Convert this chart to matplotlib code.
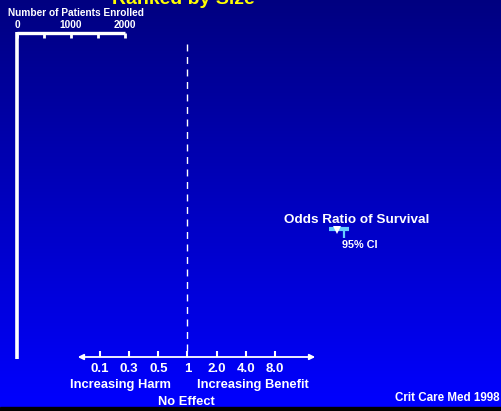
import numpy as np
import matplotlib
matplotlib.use("Agg")
import matplotlib.pyplot as plt

plt.rcParams['font.family'] = ['Liberation Sans', 'DejaVu Sans']

# Data
title = "Ranked by Size"
enrolled_ticks = [0, 500, 1000, 1500, 2000]
enrolled_labels = [0, 1000, 2000]
odds_labels = ["0.1", "0.3", "0.5", "1", "2.0", "4.0", "8.0"]
legend_title = "Odds Ratio of Survival"
ci_label = "95% CI"
source = "Crit Care Med 1998"

W, H = 502, 411
fig = plt.figure(figsize=(W / 100, H / 100), dpi=100)
ax = fig.add_axes([0, 0, 1, 1])
ax.set_xlim(0, W)
ax.set_ylim(H, 0)
ax.axis('off')

# background gradient
top = np.array([0, 0, 128]) / 255
bot = np.array([0, 0, 255]) / 255
t = np.linspace(0, 1, 256)[:, None]
grad = top * (1 - t) + bot * t
img = np.repeat(grad[:, None, :], 2, axis=1)
ax.imshow(img, extent=[0, W, 407, 0], aspect='auto', zorder=0)
ax.add_patch(plt.Rectangle((0, 407), W, 4, color='black', zorder=1))

white = 'white'
# enrollment scale (top)
def ex(v):
    return 17 + (125 - 17) * v / 2000.0

ax.plot([ex(0), ex(2000)], [33, 33], color=white, lw=2.4, solid_capstyle='butt', zorder=3)
for v in enrolled_ticks:
    ax.plot([ex(v), ex(v)], [33, 38.5], color=white, lw=2.0, solid_capstyle='butt', zorder=3)
for v in enrolled_labels:
    ax.text(ex(v), 28.5, str(v), color=white, fontsize=7.3, fontweight='bold', ha='center', va='baseline', zorder=4)
ax.text(8, 16.5, "Number of Patients Enrolled", color=white, fontsize=7.3, fontweight='bold', ha='left', va='baseline', zorder=4)
ax.plot([17, 17], [32, 359], color=white, lw=2.6, solid_capstyle='butt', zorder=3)

# title (cut off at top, as in the original)
ax.text(183, 4, title, color='#ffff00', fontsize=14, fontweight='bold', ha='center', va='baseline', zorder=4)

# odds ratio axis (bottom)
def ox(i):
    return 100 + i * (275 - 100) / 6.0

ax.annotate('', xy=(318, 357), xytext=(75, 357),
            arrowprops=dict(arrowstyle='<|-|>', color=white, lw=1.3, mutation_scale=8), zorder=3)
for i, lab in enumerate(odds_labels):
    x = ox(i)
    ax.plot([x, x], [351, 357], color=white, lw=1.5, solid_capstyle='butt', zorder=3)
    ax.text(x, 371.5, lab, color=white, fontsize=9.5, fontweight='bold', ha='center', va='baseline', zorder=4)

ax.plot([ox(3), ox(3)], [44, 357], color=white, lw=1.0, ls=(0, (5, 4)), zorder=2)

ax.text(120, 388, "Increasing Harm", color=white, fontsize=9.3, fontweight='bold', ha='center', va='baseline', zorder=4)
ax.text(253, 388, "Increasing Benefit", color=white, fontsize=9.3, fontweight='bold', ha='center', va='baseline', zorder=4)
ax.text(186, 405, "No Effect", color=white, fontsize=9.3, fontweight='bold', ha='center', va='baseline', zorder=4)
ax.text(500, 401, source, color=white, fontsize=8.4, fontweight='bold', ha='right', va='baseline', zorder=4)

# legend
ax.text(357, 223, legend_title, color=white, fontsize=9.7, fontweight='bold', ha='center', va='baseline', zorder=4)
cyan = '#66ccff'
ax.plot([329, 349], [229, 229], color=cyan, lw=3, solid_capstyle='butt', zorder=3)
ax.plot([344, 344], [229, 238], color=cyan, lw=1.6, solid_capstyle='butt', zorder=3)
ax.plot([337], [230], marker='v', color=white, markersize=6, zorder=4, markeredgewidth=0)
ax.text(342, 248, ci_label, color=white, fontsize=7.8, fontweight='bold', ha='left', va='baseline', zorder=4)

fig.savefig("out.png", dpi=100)
